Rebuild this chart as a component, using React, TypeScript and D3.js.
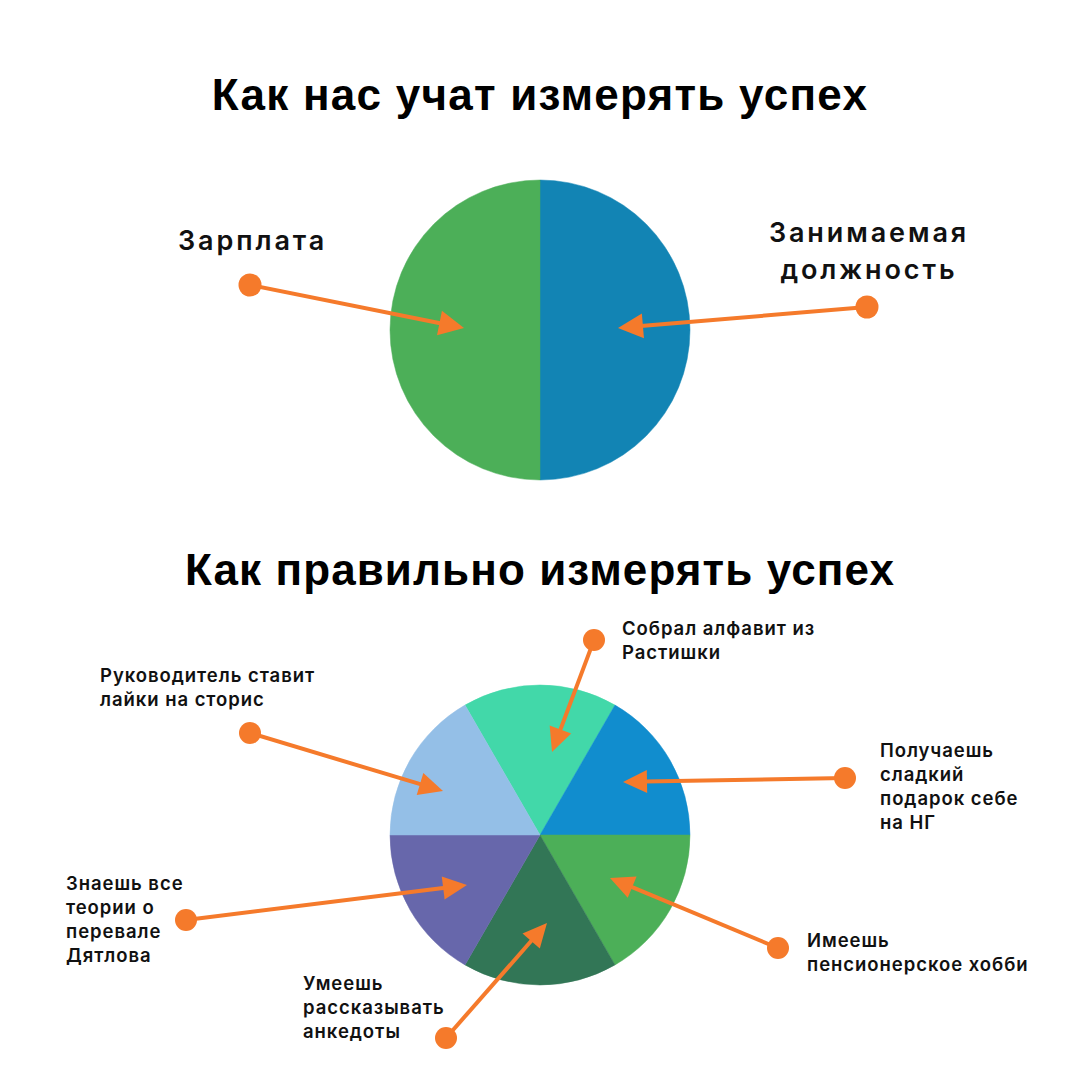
import React from "react";
import * as d3 from "d3";

const title1 = "Как нас учат измерять успех";
const title2 = "Как правильно измерять успех";

const pie1Labels = ["Занимаемая должность", "Зарплата"];
const pie1Values = [1, 1];
const pie1Colors = ["#1284B4", "#4CAF58"];

const pie2Labels = [
  "Собрал алфавит из Растишки",
  "Получаешь сладкий подарок себе на НГ",
  "Имеешь пенсионерское хобби",
  "Умеешь рассказывать анкедоты",
  "Знаешь все теории о перевале Дятлова",
  "Руководитель ставит лайки на сторис",
];
const pie2Values = [1, 1, 1, 1, 1, 1];
const pie2Colors = ["#42D8A9", "#118DCE", "#4CAF58", "#327656", "#6767AB", "#94BFE7"];

// annotation layout: label lines, text anchor pos, dot pos, arrow tip (relative to pie center)
const pie1Notes = [
  { lines: ["Занимаемая", "должность"], tx: 869, ty: 242, anchor: "middle", dot: [867, 307], tip: [78, -2] },
  { lines: ["Зарплата"], tx: 178, ty: 250, anchor: "start", dot: [250, 285], tip: [-76, -2] },
];
const pie2Notes = [
  { lines: ["Собрал алфавит из", "Растишки"], tx: 622, ty: 635, anchor: "start", dot: [594, 640], tip: [12, -83] },
  { lines: ["Получаешь", "сладкий", "подарок себе", "на НГ"], tx: 880, ty: 757, anchor: "start", dot: [845, 778], tip: [83, -53] },
  { lines: ["Имеешь", "пенсионерское хобби"], tx: 807, ty: 947, anchor: "start", dot: [778, 948], tip: [70, 43] },
  { lines: ["Умеешь", "рассказывать", "анкедоты"], tx: 303, ty: 990, anchor: "start", dot: [446, 1038], tip: [7, 88] },
  { lines: ["Знаешь все", "теории о", "перевале", "Дятлова"], tx: 66, ty: 890, anchor: "start", dot: [186, 920], tip: [-73, 50] },
  { lines: ["Руководитель ставит", "лайки на сторис"], tx: 100, ty: 682, anchor: "start", dot: [250, 733], tip: [-97, -44] },
];

const ORANGE = "#F57A2B";
const TITLE_FONT = "'Liberation Sans', Arial, sans-serif";
const LABEL_FONT = "Inter, 'Noto Sans', sans-serif";

function Arrow({ from, to, headLen, headW, dotR }: any) {
  const dx = to[0] - from[0];
  const dy = to[1] - from[1];
  const len = Math.sqrt(dx * dx + dy * dy);
  const ux = dx / len, uy = dy / len;
  const bx = to[0] - ux * headLen, by = to[1] - uy * headLen;
  const px = -uy, py = ux;
  const head = [
    [to[0], to[1]],
    [bx + px * headW / 2, by + py * headW / 2],
    [bx - px * headW / 2, by - py * headW / 2],
  ];
  return (
    <g>
      <line x1={from[0]} y1={from[1]} x2={bx + ux * 2} y2={by + uy * 2} stroke={ORANGE} strokeWidth={4} />
      <path d={d3.line()(head as any) + "Z"} fill={ORANGE} />
      <circle cx={from[0]} cy={from[1]} r={dotR} fill={ORANGE} />
    </g>
  );
}

export default function App() {
  const W = 1080, H = 1080;
  const c1: [number, number] = [540, 330];
  const c2: [number, number] = [540, 835];
  const R = 150;

  const pie1 = d3.pie<number>().sort(null).startAngle(0).endAngle(2 * Math.PI)(pie1Values);
  const pie2 = d3.pie<number>().sort(null).startAngle(-Math.PI / 6).endAngle(2 * Math.PI - Math.PI / 6)(pie2Values);
  const arc = d3.arc<any>().innerRadius(0).outerRadius(R);

  return (
    <svg width={W} height={H} style={{ position: "absolute", left: 0, top: 0, background: "#fff" }}>
      <rect width={W} height={H} fill="#fff" />
      <text x={540} y={110} textAnchor="middle" fontFamily={TITLE_FONT} fontWeight={700} fontSize={44} letterSpacing={1.25} fill="#000">{title1}</text>
      <text x={540} y={585} textAnchor="middle" fontFamily={TITLE_FONT} fontWeight={700} fontSize={44} letterSpacing={1.1} fill="#000">{title2}</text>

      <g transform={`translate(${c1[0]},${c1[1]})`}>
        {pie1.map((d, i) => (
          <path key={pie1Labels[i]} d={arc(d) as string} fill={pie1Colors[i]} stroke={pie1Colors[i]} strokeWidth={0.5} />
        ))}
      </g>
      <g transform={`translate(${c2[0]},${c2[1]})`}>
        {pie2.map((d, i) => (
          <path key={pie2Labels[i]} d={arc(d) as string} fill={pie2Colors[i]} stroke={pie2Colors[i]} strokeWidth={0.5} />
        ))}
      </g>

      {pie1Notes.map((n, i) => (
        <g key={"n1" + i}>
          {n.lines.map((l, j) => (
            <text key={j} x={n.tx} y={n.ty + j * 37} textAnchor={n.anchor as any} fontFamily={LABEL_FONT} fontWeight={600} fontSize={27} letterSpacing={2.9} fill="#111">{l}</text>
          ))}
          <Arrow from={n.dot} to={[c1[0] + n.tip[0], c1[1] + n.tip[1]]} headLen={25} headW={25} dotR={11.5} />
        </g>
      ))}
      {pie2Notes.map((n, i) => (
        <g key={"n2" + i}>
          {n.lines.map((l, j) => (
            <text key={j} x={n.tx} y={n.ty + j * 24} textAnchor={n.anchor as any} fontFamily={LABEL_FONT} fontWeight={600} fontSize={18.5} letterSpacing={0.95} fill="#111">{l}</text>
          ))}
          <Arrow from={n.dot} to={[c2[0] + n.tip[0], c2[1] + n.tip[1]]} headLen={24} headW={23} dotR={11} />
        </g>
      ))}
    </svg>
  );
}
